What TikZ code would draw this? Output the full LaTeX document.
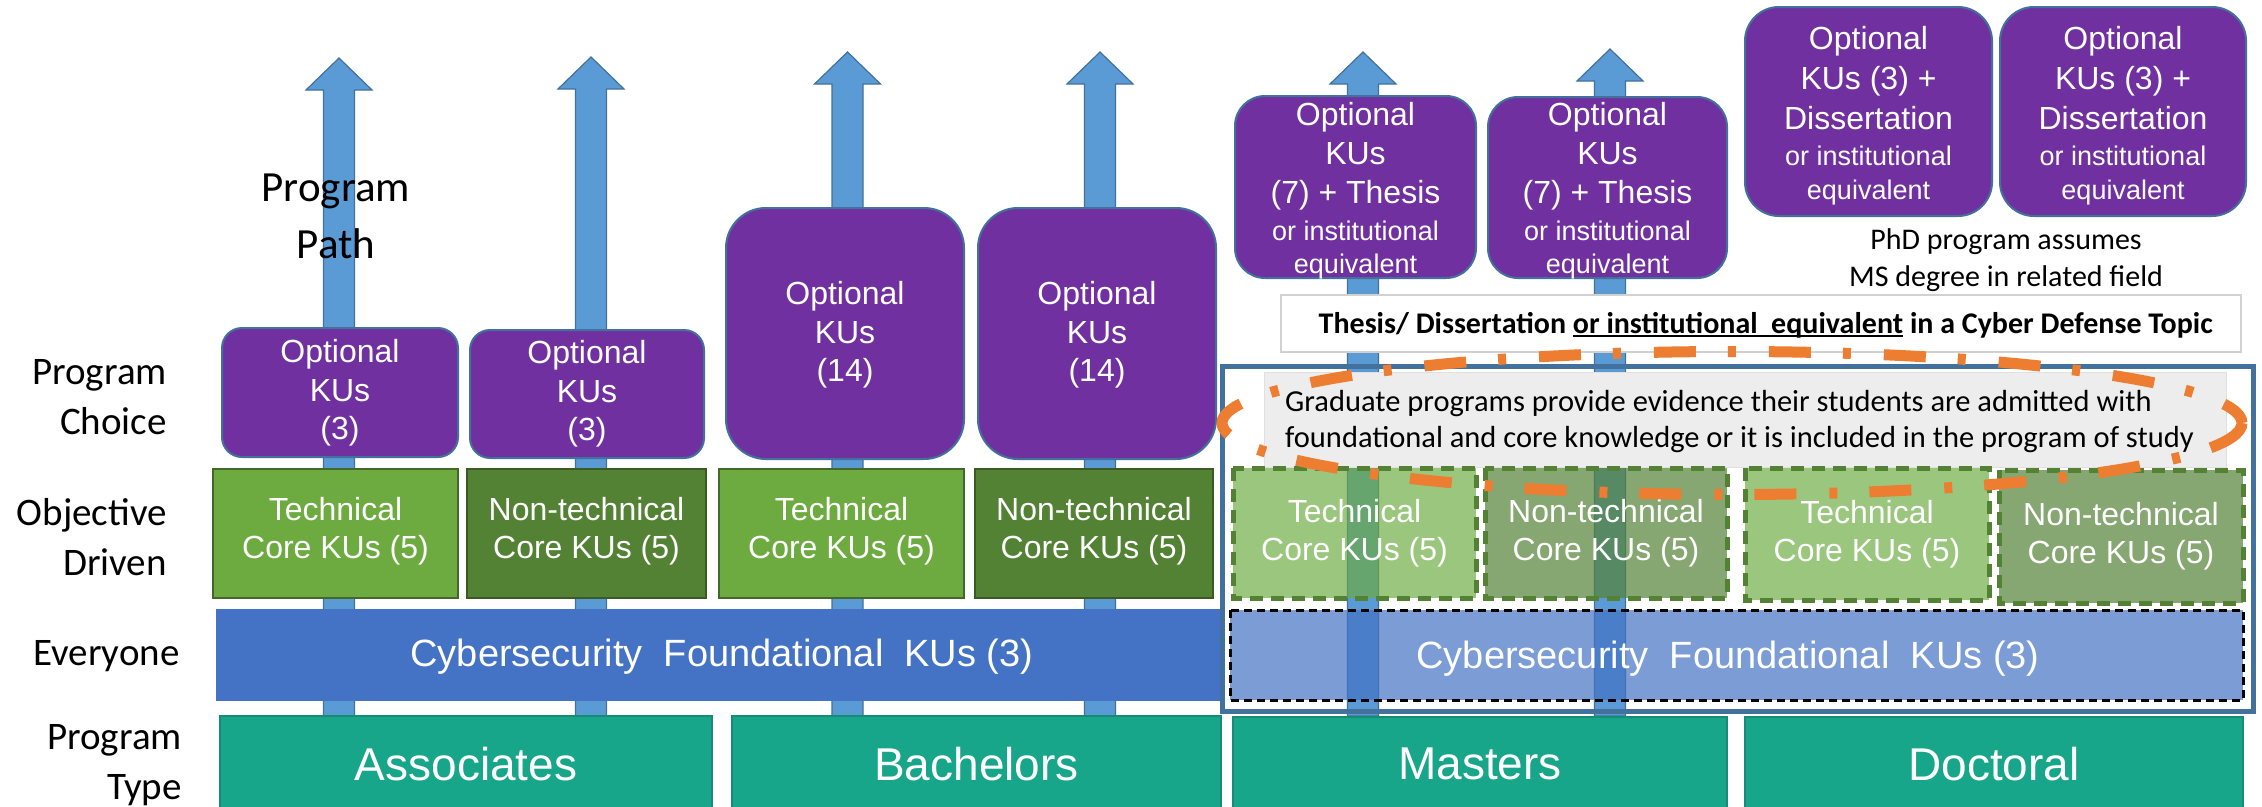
\documentclass[tikz,border=0pt]{standalone}
\usepackage{fontspec}
\setmainfont{Liberation Sans}
\newfontfamily\calfont{Carlito}
\definecolor{purp}{HTML}{7030A0}
\definecolor{edgeblue}{HTML}{41719C}
\definecolor{arrowfill}{HTML}{5B9BD5}
\definecolor{techgreen}{HTML}{6DAB40}
\definecolor{nontechgreen}{HTML}{548235}
\definecolor{foundblue}{HTML}{4472C4}
\definecolor{progteal}{HTML}{17A689}
\definecolor{orangeline}{HTML}{ED7D31}
\definecolor{grayfill}{HTML}{EDEDED}
\newcommand{\myunder}[1]{\setbox0\hbox{#1}\rlap{\rule[-4pt]{\wd0}{2pt}}\copy0\relax}
\newcommand{\blockarrow}[2]{%
  \draw[arrowsty] ({#1-15.5},716) -- ({#1-15.5},{#2+32}) -- ({#1-33},{#2+32}) -- (#1,#2)
     -- ({#1+33},{#2+32}) -- ({#1+15.5},{#2+32}) -- ({#1+15.5},716) -- cycle;}
\tikzset{
  arrowsty/.style={fill=arrowfill, draw=edgeblue, line width=1.2pt},
  optbox/.style={fill=purp, draw=edgeblue, line width=2pt},
  boxtext/.style={text=white, align=center, font=\fontsize{32}{38.5}\selectfont, inner sep=0pt},
  mastext/.style={text=white, align=center, font=\fontsize{32}{39}\selectfont, inner sep=0pt, anchor=north},
  phdtext/.style={text=white, align=center, font=\fontsize{32}{40}\selectfont, inner sep=0pt, anchor=north},
  techbox/.style={fill=techgreen, draw=nontechgreen!80!black, line width=1.5pt},
  nontechbox/.style={fill=nontechgreen, draw=nontechgreen!70!black, line width=1.5pt},
  techdash/.style={fill=techgreen, fill opacity=0.68, draw=nontechgreen, draw opacity=1, line width=5pt, dash pattern=on 13pt off 8pt},
  nontechdash/.style={fill=nontechgreen, fill opacity=0.7, draw=nontechgreen, draw opacity=1, line width=5pt, dash pattern=on 13pt off 8pt},
  foundbox/.style={fill=foundblue, draw=none},
  founddash/.style={fill=foundblue, fill opacity=0.7, draw=black, draw opacity=1, line width=3pt, dash pattern=on 8pt off 5pt},
  typebox/.style={fill=progteal, draw=progteal!85!black, line width=1.5pt},
  rowlabel/.style={font=\calfont\fontsize{39}{50}\selectfont, align=right, inner sep=0pt},
}
\newcommand{\sm}[1]{{\fontsize{27}{33}\selectfont #1}}
\begin{document}
\begin{tikzpicture}[x=1pt,y=-1pt]
\useasboundingbox (0,0) rectangle (2262,806);
\fill[white] (0,0) rectangle (2262,806);

% ---- arrows (behind everything)
\blockarrow{339}{58}
\blockarrow{591}{57}
\blockarrow{847.5}{52}
\blockarrow{1100}{52}
\blockarrow{1363}{52}
\blockarrow{1610}{49}

% ---- row labels
\node[rowlabel, anchor=north east] (lblchoice) at (167,359) {Program\\Choice};
\node[rowlabel, anchor=north east] (lblobj) at (167,498) {Objective\\Driven};
\node[rowlabel, anchor=base] (lblevery) at (106.5,665) {Everyone};
\node[rowlabel, anchor=north east] (lbltype) at (182,724) {Program\\Type};
\node[font=\calfont\fontsize{43}{57}\selectfont, align=center, inner sep=0pt, anchor=north] (path) at (336,174) {Program\\Path};

% ---- program type boxes
\draw[typebox] (220,716) rectangle (712,812);
\draw[typebox] (732,716) rectangle (1221,812);
\draw[typebox] (1233,717) rectangle (1727,812);
\draw[typebox] (1745,717) rectangle (2243,812);
\node[text=white, font=\fontsize{46}{50}\selectfont] (assoc) at (466,764) {Associates};
\node[text=white, font=\fontsize{46}{50}\selectfont] (bach) at (976.5,764) {Bachelors};
\node[text=white, font=\fontsize{46}{50}\selectfont] (mast) at (1480,764) {Masters};
\node[text=white, font=\fontsize{46}{50}\selectfont] (doct) at (1994,764) {Doctoral};

% ---- foundational bar (undergrad)
\fill[foundbox] (216,609) rectangle (1220,701);
\node[text=white, font=\fontsize{38}{44}\selectfont] (found1) at (722,657) {Cybersecurity\ \ Foundational\ \ KUs (3)};

% ---- core boxes (undergrad)
\draw[techbox] (213,469) rectangle (458,598);
\draw[nontechbox] (467,469) rectangle (706,598);
\draw[techbox] (719,469) rectangle (964,598);
\draw[nontechbox] (975,469) rectangle (1213,598);
\node[boxtext] (c1) at (335.5,531) {Technical\\Core KUs (5)};
\node[boxtext] (c2) at (586.5,531) {Non-technical\\Core KUs (5)};
\node[boxtext] (c3) at (841.5,531) {Technical\\Core KUs (5)};
\node[boxtext] (c4) at (1094,531) {Non-technical\\Core KUs (5)};

% ---- optional boxes
\draw[optbox, rounded corners=20pt] (222,328) rectangle (458,457);
\draw[optbox, rounded corners=20pt] (470,330) rectangle (704,458);
\draw[optbox, rounded corners=40pt] (726,208) rectangle (964,459);
\draw[optbox, rounded corners=40pt] (978,208) rectangle (1216,459);
\draw[optbox, rounded corners=30pt] (1235,96) rectangle (1476,278);
\draw[optbox, rounded corners=30pt] (1488,97) rectangle (1727,278);
\draw[optbox, rounded corners=34pt] (1745,7) rectangle (1992,216);
\draw[optbox, rounded corners=34pt] (2000,7) rectangle (2246,216);
\node[boxtext] (o1) at (340,393) {Optional\\KUs\\(3)};
\node[boxtext] (o2) at (587,394) {Optional\\KUs\\(3)};
\node[boxtext] (o3) at (845,335) {Optional\\KUs\\(14)};
\node[boxtext] (o4) at (1097,335) {Optional\\KUs\\(14)};
\node[mastext] (m1) at (1355.5,102) {Optional\\KUs\\(7) + Thesis\\[-2pt]\sm{or institutional}\\[-6pt]\sm{equivalent}};
\node[mastext] (m2) at (1607.5,102) {Optional\\KUs\\(7) + Thesis\\[-2pt]\sm{or institutional}\\[-6pt]\sm{equivalent}};
\node[phdtext] (p1) at (1868.5,26) {Optional\\KUs (3) +\\Dissertation\\[-4pt]\sm{or institutional}\\[-6pt]\sm{equivalent}};
\node[phdtext] (p2) at (2123,26) {Optional\\KUs (3) +\\Dissertation\\[-4pt]\sm{or institutional}\\[-6pt]\sm{equivalent}};

\node[font=\calfont\fontsize{30}{37}\selectfont, align=center, inner sep=0pt, anchor=north] (phd) at (2006,228) {PhD program assumes\\MS degree in related field};

% ---- thesis banner
\draw[fill=white, draw=black!18, line width=1.2pt] (1281,295) rectangle (2241,352);
\node[font=\calfont\bfseries\fontsize{30}{36}\selectfont, anchor=base west, inner sep=0pt] (thesis) at (1318.5,333)
  {Thesis/ Dissertation \myunder{or institutional\ \ equivalent} in a Cyber Defense Topic};

% ---- graduate region
\draw[fill=grayfill, draw=black!12, line width=1pt] (1264,372) rectangle (2226,467);
\node[font=\calfont\fontsize{30.5}{36}\selectfont, align=left, inner sep=0pt, anchor=north west] (grad) at (1285,390)
  {Graduate programs provide evidence their students are admitted with\\foundational and core knowledge or it is included in the program of study};

\draw[techdash] (1233,468) rectangle (1476,598);
\draw[nontechdash] (1485,468) rectangle (1727,598);
\draw[techdash] (1745,468) rectangle (1989,600);
\draw[nontechdash] (1999,470) rectangle (2243,603);
\node[boxtext] (c5) at (1354.5,533) {Technical\\Core KUs (5)};
\node[boxtext] (c6) at (1606,533) {Non-technical\\Core KUs (5)};
\node[boxtext] (c7) at (1867,534) {Technical\\Core KUs (5)};
\node[boxtext] (c8) at (2121,536) {Non-technical\\Core KUs (5)};

\draw[founddash] (1230,610) rectangle (2243,700);
\node[text=white, font=\fontsize{38}{44}\selectfont] (found2) at (1728,659) {Cybersecurity\ \ Foundational\ \ KUs (3)};

\draw[edgeblue, line width=5pt] (1222,366) rectangle (2253,711);

% ---- orange dash-dot ellipse
\draw[orangeline, line width=11pt, dash pattern=on 42pt off 32pt on 8pt off 33pt] (1732,423) ellipse [x radius=510, y radius=71.5];
\end{tikzpicture}
\end{document}
